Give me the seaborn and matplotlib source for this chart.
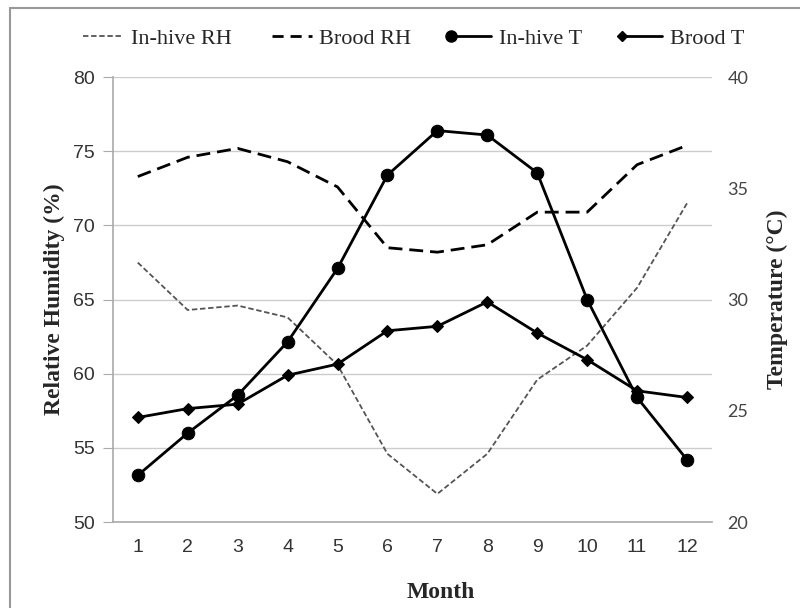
import numpy as np
import pandas as pd
import matplotlib
matplotlib.use("Agg")
import matplotlib.pyplot as plt
from matplotlib.lines import Line2D
from matplotlib.patches import Rectangle
from matplotlib.legend_handler import HandlerLine2D
import seaborn as sns

# data
months = list(range(1, 13))
inhive_rh = [67.5, 64.3, 64.6, 63.8, 60.6, 54.6, 51.9, 54.6, 59.6, 61.9, 65.8, 71.5]
brood_rh = [73.3, 74.6, 75.2, 74.3, 72.6, 68.5, 68.2, 68.7, 70.9, 70.9, 74.1, 75.4]
inhive_t = [22.1, 24.0, 25.7, 28.1, 31.4, 35.6, 37.6, 37.4, 35.7, 30.0, 25.6, 22.8]
brood_t = [24.7, 25.1, 25.3, 26.6, 27.1, 28.6, 28.8, 29.9, 28.5, 27.3, 25.9, 25.6]
left_ticks = [50, 55, 60, 65, 70, 75, 80]
right_ticks = [20, 25, 30, 35, 40]

df = pd.DataFrame({"month": months, "inhive_rh": inhive_rh, "brood_rh": brood_rh,
                   "inhive_t": inhive_t, "brood_t": brood_t})


# legend handle with the marker only at the left end of the line
class LeftMarkerHandler(HandlerLine2D):
    def create_artists(self, legend, orig_handle, xdescent, ydescent,
                       width, height, fontsize, trans):
        arts = super().create_artists(legend, orig_handle, xdescent, ydescent,
                                      width, height, fontsize, trans)
        for a in arts:
            a.set_markevery([0])
        return arts


sns.set_style("white")
plt.rcParams['font.family'] = ['Liberation Sans', 'DejaVu Sans']

fig = plt.figure(figsize=(8, 6.08), dpi=100)
ax = fig.add_axes([0.141, 0.1414, 0.749, 0.7316])
ax2 = ax.twinx()

# RH on left axis
sns.lineplot(data=df, x="month", y="inhive_rh", ax=ax, color="#555555", lw=1.3,
             linestyle=(0, (3, 1.5)))
sns.lineplot(data=df, x="month", y="brood_rh", ax=ax, color="black", lw=2,
             linestyle=(0, (5, 2.5)))
# temperature on right axis
sns.lineplot(data=df, x="month", y="inhive_t", ax=ax2, color="black", lw=2,
             marker="o", markersize=9, markeredgecolor="black")
sns.lineplot(data=df, x="month", y="brood_t", ax=ax2, color="black", lw=2,
             marker="D", markersize=6, markeredgecolor="black")

ax.set_xlim(0.5, 12.5)
ax.set_ylim(50, 80)
ax2.set_ylim(20, 40)
ax.set_xticks(months)
ax.set_yticks(left_ticks)
ax2.set_yticks(right_ticks)
ax.set_xticks(np.arange(0.5, 13, 1), minor=True)

ax.grid(axis="y", color="#cccccc", lw=1)
ax.set_axisbelow(True)
for s in ["top", "right"]:
    ax.spines[s].set_visible(False)
for s in ["top", "right", "left", "bottom"]:
    ax2.spines[s].set_visible(False)
ax.spines["left"].set_color("#aaaaaa")
ax.spines["bottom"].set_color("#aaaaaa")
ax.spines["left"].set_linewidth(1.2)
ax.spines["bottom"].set_linewidth(1.2)

ax.tick_params(axis="x", which="major", length=0, pad=12, labelsize=14, labelcolor="#333333")
ax.tick_params(axis="x", which="minor", length=7, color="#aaaaaa", direction="out")
ax.tick_params(axis="y", length=7, color="#aaaaaa", pad=6, labelsize=14, labelcolor="#333333",
               left=True)
ax2.tick_params(axis="y", length=0, pad=11, labelsize=13, labelcolor="#444444")
for lab in ax2.get_yticklabels():
    lab.set_family(["Lato", "DejaVu Sans"])

ax.set_xlabel("Month", family="Liberation Serif", fontweight="bold", fontsize=17)
ax.xaxis.set_label_coords(0.548, -0.135)
ax.set_ylabel("Relative Humidity (%)", family="Liberation Serif", fontweight="bold",
              fontsize=17, labelpad=6)
ax2.set_ylabel("Temperature (°C)", family="Liberation Serif", fontweight="bold",
               fontsize=17, rotation=90, labelpad=13)

handles = [
    Line2D([], [], color="#555555", lw=1.3, linestyle=(0, (3, 1.5))),
    Line2D([], [], color="black", lw=2, linestyle=(0, (4, 2.5))),
    Line2D([], [], color="black", lw=2, marker="o", markersize=8),
    Line2D([], [], color="black", lw=2, marker="D", markersize=5),
]
fig.legend(handles, ["In-hive RH", "Brood RH", "In-hive T", "Brood T"],
           loc="center", bbox_to_anchor=(0.513, 0.937), ncol=4, frameon=False,
           numpoints=2, handlelength=2.4, handletextpad=0.05, columnspacing=1.5,
           handler_map={Line2D: LeftMarkerHandler()},
           prop={"family": "Liberation Serif", "size": 16})

fig.patches.append(Rectangle((0.0125, -0.1), 1.2, 1.087, transform=fig.transFigure,
                             fill=False, edgecolor="#999999", lw=1.5))

fig.savefig("out.png", dpi=100)
